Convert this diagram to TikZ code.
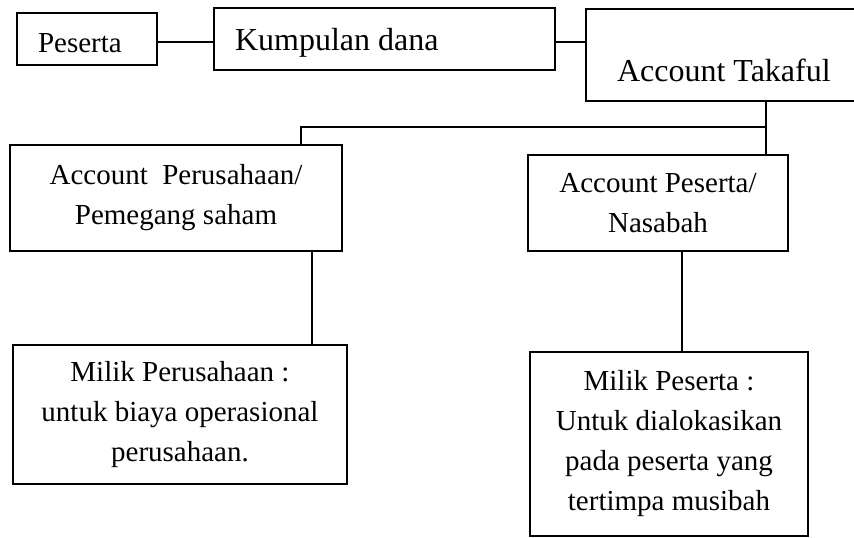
\documentclass[tikz,border=0pt]{standalone}
\usepackage{fontspec}
\setmainfont{Liberation Serif}

\begin{document}
\begin{tikzpicture}[x=1pt, y=-1pt,
    box/.style={draw, line width=1.5pt, align=center, inner sep=0pt},
    link/.style={line width=1.5pt},
    body/.style={font=\fontsize{29}{40}\selectfont},
    big/.style={font=\fontsize{32}{40}\selectfont}]
        \useasboundingbox (0,0) rectangle (854,538);

        % Top row
        \draw (87,39)     node[box, body, minimum width=140, minimum height=52] (peserta) {\raisebox{-13pt}[0pt][0pt]{\makebox[140pt][l]{\hspace{21pt}Peserta}}};
        \draw (384.5,39)  node[box, big, minimum width=341, minimum height=62] (kumpulan) {\raisebox{-11pt}[0pt][0pt]{\makebox[341pt][l]{\hspace{21pt}Kumpulan dana}}};
        \draw (721,55)    node[box, big, minimum width=270, minimum height=92] (takaful) {\raisebox{-26pt}[0pt][0pt]{\makebox[270pt][l]{\hspace{31pt}Account Takaful}}};

        % Accounts
        \draw (176,198)   node[box, body, minimum width=332, minimum height=106] (perusahaan) {Account~~Perusahaan/\\Pemegang saham};
        \draw (658,203)   node[box, body, minimum width=260, minimum height=96] (nasabah) {Account Peserta/\\Nasabah};

        % Owners
        \draw (180,414.5) node[box, body, minimum width=334, minimum height=139] (milikperusahaan) {Milik Perusahaan :\\untuk biaya operasional\\perusahaan.};
        \draw (669,444)   node[box, body, minimum width=278, minimum height=184] (milikpeserta) {Milik Peserta :\\Untuk dialokasikan\\pada peserta yang\\tertimpa musibah};

        % Links along the top
        \draw[link] ([yshift=-3pt]peserta.east) -- ([yshift=-3pt]peserta.east -| kumpulan.west);
        \draw[link] ([yshift=-3pt]kumpulan.east) -- ([yshift=-3pt]kumpulan.east -| takaful.west);

        % Split of the takaful account
        \coordinate (fork) at (766,127);
        \coordinate (bend) at (301,127);
        \draw[link] (takaful.south -| fork) -- (fork |- nasabah.north);
        \draw[link] (fork) -- (bend) -- (bend |- perusahaan.north);

        % Down to the owners
        \coordinate (leftdrop) at (312,0);
        \coordinate (rightdrop) at (682,0);
        \draw[link] (perusahaan.south -| leftdrop) -- (milikperusahaan.north -| leftdrop);
        \draw[link] (nasabah.south -| rightdrop) -- (milikpeserta.north -| rightdrop);
    \end{tikzpicture}
\end{document}
